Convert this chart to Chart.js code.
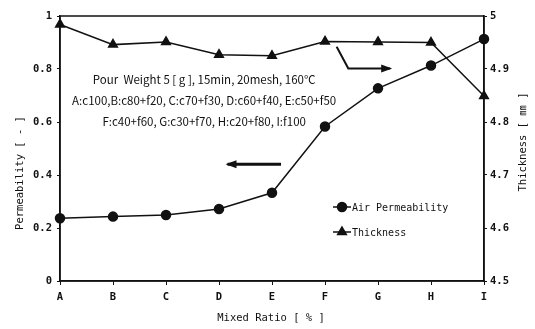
<!DOCTYPE html>
<html>
<head>
<meta charset="utf-8">
<script src="https://cdn.jsdelivr.net/npm/chart.js@4"></script>
<style>
  html, body { margin: 0; padding: 0; background: #fff; }
  canvas { display: block; }
</style>
</head>
<body>
<canvas id="chart" width="535" height="329"></canvas>
<script>
// mixed ratio categories (A..I)
const categories = ['A', 'B', 'C', 'D', 'E', 'F', 'G', 'H', 'I'];
// air permeability [-], left axis
const permeability = [0.237, 0.243, 0.249, 0.272, 0.333, 0.583, 0.727, 0.813, 0.913];
// thickness [mm], right axis
const thickness = [4.984, 4.946, 4.951, 4.927, 4.925, 4.952, 4.951, 4.950, 4.849];

const leftTicks = [0, 0.2, 0.4, 0.6, 0.8, 1];
const rightTicks = [4.5, 4.6, 4.7, 4.8, 4.9, 5];

const noteLines = [
    'Pour  Weight 5 [ g ], 15min, 20mesh, 160\u2103',
    'A:c100,B:c80+f20, C:c70+f30, D:c60+f40, E:c50+f50',
    'F:c40+f60, G:c30+f70, H:c20+f80, I:f100'
];

const ink = '#111';
const monoFont = '"DejaVu Sans Mono", "Noto Sans CJK KR", monospace';
const textFont = '"Noto Sans CJK KR", "Noto Sans", sans-serif';

// arrows, in data units (x = category index)
const leftArrow = { axis: 'y', pts: [[4.17, 0.441], [3.16, 0.441]] };
const rightArrow = { axis: 'y1', pts: [[5.22, 4.942], [5.44, 4.901], [6.23, 4.901]] };

function drawArrow(chart, arrow, width) {
    const ctx = chart.ctx;
    const xs = chart.scales.x;
    const ys = chart.scales[arrow.axis];
    const p = arrow.pts.map(function(d) { return [xs.getPixelForValue(d[0]), ys.getPixelForValue(d[1])]; });
    ctx.save();
    ctx.strokeStyle = ink;
    ctx.fillStyle = ink;
    ctx.lineWidth = width;
    ctx.beginPath();
    ctx.moveTo(p[0][0], p[0][1]);
    for (let i = 1; i < p.length; i++) {
        ctx.lineTo(p[i][0], p[i][1]);
    }
    ctx.stroke();
    // head
    const a = p[p.length - 2], b = p[p.length - 1];
    const ang = Math.atan2(b[1] - a[1], b[0] - a[0]);
    const len = 9, half = 4;
    ctx.beginPath();
    ctx.moveTo(b[0] + Math.cos(ang) * 2, b[1] + Math.sin(ang) * 2);
    ctx.lineTo(b[0] - Math.cos(ang) * len - Math.sin(ang) * half, b[1] - Math.sin(ang) * len + Math.cos(ang) * half);
    ctx.lineTo(b[0] - Math.cos(ang) * len + Math.sin(ang) * half, b[1] - Math.sin(ang) * len - Math.cos(ang) * half);
    ctx.closePath();
    ctx.fill();
    ctx.restore();
}

const extras = {
    id: 'extras',
    afterDraw: function(chart) {
        const ctx = chart.ctx;
        const area = chart.chartArea;
        const xs = chart.scales.x;
        const ys = chart.scales.y;

        // frame
        ctx.save();
        ctx.strokeStyle = ink;
        ctx.lineWidth = 1.5;
        ctx.strokeRect(area.left, area.top, area.right - area.left, area.bottom - area.top);
        ctx.restore();

        // note text
        ctx.save();
        ctx.fillStyle = ink;
        ctx.font = '11.5px ' + textFont;
        ctx.textAlign = 'center';
        ctx.textBaseline = 'middle';
        const noteY = [0.76, 0.681, 0.602];
        for (let i = 0; i < noteLines.length; i++) {
            ctx.fillText(noteLines[i], xs.getPixelForValue(2.72), ys.getPixelForValue(noteY[i]));
        }
        ctx.restore();

        drawArrow(chart, leftArrow, 3);
        drawArrow(chart, rightArrow, 2);

        // legend
        ctx.save();
        ctx.strokeStyle = ink;
        ctx.fillStyle = ink;
        ctx.lineWidth = 1.5;
        const lx = 333, rows = [[207, 'circle', 'Air Permeability'], [232, 'triangle', 'Thickness']];
        rows.forEach(function(r) {
            ctx.beginPath();
            ctx.moveTo(lx, r[0]);
            ctx.lineTo(lx + 18, r[0]);
            ctx.stroke();
            Chart.helpers.drawPoint(ctx, { pointStyle: r[1], radius: r[1] === 'circle' ? 4.5 : 5, borderWidth: 1 }, lx + 9, r[0]);
            ctx.fill();
            ctx.font = '10px ' + monoFont;
            ctx.textAlign = 'left';
            ctx.textBaseline = 'middle';
            ctx.fillText(r[2], lx + 19, r[0] + 1);
        });
        ctx.restore();

        // axis titles
        ctx.save();
        ctx.fillStyle = ink;
        ctx.font = '10.5px ' + monoFont;
        ctx.textAlign = 'center';
        ctx.textBaseline = 'middle';
        ctx.fillText('Mixed Ratio [ % ]', 271, 318);
        ctx.translate(20, 173);
        ctx.rotate(-Math.PI / 2);
        ctx.fillText('Permeability [ - ]', 0, 0);
        ctx.restore();
        ctx.save();
        ctx.fillStyle = ink;
        ctx.font = '10.5px ' + monoFont;
        ctx.textAlign = 'center';
        ctx.textBaseline = 'middle';
        ctx.translate(523, 142);
        ctx.rotate(-Math.PI / 2);
        ctx.fillText('Thickness [ \u339C ]', 0, 0);
        ctx.restore();
    }
};

const tickFont = { family: monoFont, size: 10.5, weight: 'bold' };

new Chart(document.getElementById('chart'), {
    type: 'line',
    data: {
        labels: categories,
        datasets: [{
            label: 'Air Permeability',
            data: permeability,
            yAxisID: 'y',
            borderColor: ink,
            backgroundColor: ink,
            borderWidth: 1.5,
            pointStyle: 'circle',
            pointRadius: 4.5,
            tension: 0
        }, {
            label: 'Thickness',
            data: thickness,
            yAxisID: 'y1',
            borderColor: ink,
            backgroundColor: ink,
            borderWidth: 1.5,
            pointStyle: 'triangle',
            pointRadius: 5,
            tension: 0
        }]
    },
    options: {
        responsive: false,
        animation: false,
        layout: { padding: { top: 16, left: 0, right: 0, bottom: 0 } },
        plugins: {
            legend: { display: false },
            tooltip: { enabled: false }
        },
        scales: {
            x: {
                offset: false,
                grid: { display: true, drawOnChartArea: false, drawTicks: true, tickLength: 4, color: ink },
                border: { color: ink, width: 1.5 },
                ticks: { color: ink, font: tickFont, padding: 6, maxRotation: 0 },
                afterFit: function(s) { s.height = 48; }
            },
            y: {
                position: 'left',
                min: 0, max: 1,
                afterBuildTicks: function(s) { s.ticks = leftTicks.map(function(v) { return { value: v }; }); },
                grid: { drawOnChartArea: false, tickLength: 3, color: ink },
                border: { color: ink, width: 1.5 },
                ticks: { color: ink, font: tickFont, padding: 5, callback: function(v) { return String(v); } },
                afterFit: function(s) { s.width = 60; }
            },
            y1: {
                position: 'right',
                min: 4.5, max: 5,
                afterBuildTicks: function(s) { s.ticks = rightTicks.map(function(v) { return { value: v }; }); },
                grid: { drawOnChartArea: false, tickLength: 3, color: ink },
                border: { color: ink, width: 1.5 },
                ticks: { color: ink, font: tickFont, padding: 3, callback: function(v) { return String(v); } },
                afterFit: function(s) { s.width = 51; }
            }
        }
    },
    plugins: [extras]
});
</script>
</body>
</html>
